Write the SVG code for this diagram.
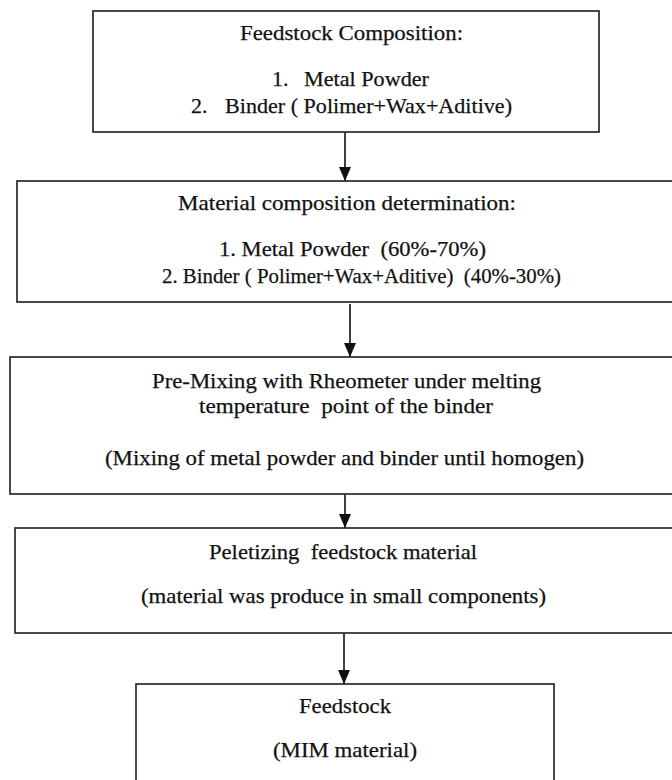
<svg xmlns="http://www.w3.org/2000/svg" width="672" height="780" viewBox="0 0 672 780" font-family="'Liberation Serif', 'Times New Roman', serif">
<style>
.box{fill:#fff;stroke:#2a2a2a;stroke-width:1.7}
.t{font-family:'Liberation Serif','Times New Roman',serif;font-size:22px;fill:#111;stroke:#111;stroke-width:0.25}
.c{stroke:#111;stroke-width:1.6;fill:none}
</style>
<defs>
<marker id="ah" markerUnits="userSpaceOnUse" markerWidth="14" markerHeight="12" refX="14" refY="6" orient="auto">
<path d="M0,0 L14,6 L0,12 z" fill="#111"/>
</marker>
</defs>
<rect width="672" height="780" fill="#fff"/>
<g id="connectors">
<line class="c" x1="345" y1="132" x2="345" y2="181" marker-end="url(#ah)"/>
<line class="c" x1="350" y1="304" x2="350" y2="357" marker-end="url(#ah)"/>
<line class="c" x1="345" y1="494" x2="345" y2="528" marker-end="url(#ah)"/>
<line class="c" x1="344" y1="633" x2="344" y2="684" marker-end="url(#ah)"/>
</g>
<g id="n1">
<rect class="box" x="93" y="11" width="506" height="121"/>
<text class="t" x="240" y="40" textLength="223" lengthAdjust="spacingAndGlyphs">Feedstock Composition:</text>
<text class="t" x="272" y="86">1.</text>
<text class="t" x="304" y="86" textLength="125" lengthAdjust="spacingAndGlyphs">Metal Powder</text>
<text class="t" x="191" y="113">2.</text>
<text class="t" x="225" y="113" textLength="287" lengthAdjust="spacingAndGlyphs">Binder ( Polimer+Wax+Aditive)</text>
</g>
<g id="n2">
<rect class="box" x="17" y="181" width="670" height="121"/>
<text class="t" x="178" y="210" textLength="338" lengthAdjust="spacingAndGlyphs">Material composition determination:</text>
<text class="t" x="219" y="256" textLength="267" lengthAdjust="spacingAndGlyphs" xml:space="preserve">1. Metal Powder  (60%-70%)</text>
<text class="t" x="162" y="283" textLength="399" lengthAdjust="spacingAndGlyphs" xml:space="preserve">2. Binder ( Polimer+Wax+Aditive)  (40%-30%)</text>
</g>
<g id="n3">
<rect class="box" x="10" y="357" width="677" height="137"/>
<text class="t" x="152" y="388" textLength="389" lengthAdjust="spacingAndGlyphs">Pre-Mixing with Rheometer under melting</text>
<text class="t" x="199" y="413" textLength="294" lengthAdjust="spacingAndGlyphs" xml:space="preserve">temperature  point of the binder</text>
<text class="t" x="105" y="465" textLength="479" lengthAdjust="spacingAndGlyphs">(Mixing of metal powder and binder until homogen)</text>
</g>
<g id="n4">
<rect class="box" x="15" y="528" width="672" height="105"/>
<text class="t" x="209" y="559" textLength="268" lengthAdjust="spacingAndGlyphs" xml:space="preserve">Peletizing  feedstock material</text>
<text class="t" x="141" y="603" textLength="405" lengthAdjust="spacingAndGlyphs">(material was produce in small components)</text>
</g>
<g id="n5">
<rect class="box" x="136" y="684" width="418" height="110"/>
<text class="t" x="299" y="713" textLength="92" lengthAdjust="spacingAndGlyphs">Feedstock</text>
<text class="t" x="273" y="757" textLength="144" lengthAdjust="spacingAndGlyphs">(MIM material)</text>
</g>
</svg>
